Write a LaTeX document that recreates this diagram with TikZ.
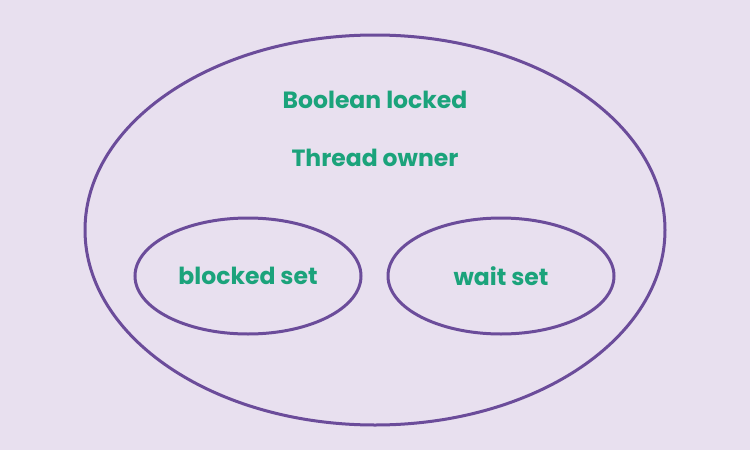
\documentclass[tikz,border=0pt]{standalone}
\usepackage{fontspec}
\setmainfont{Poppins}
\definecolor{bg}{HTML}{E8E0EF}
\definecolor{stroke}{HTML}{6B4C9A}
\definecolor{txt}{HTML}{1BA37B}
\tikzset{
  ring/.style={draw=stroke, line width=3pt, ellipse},
  lbl/.style={text=txt, font=\fontsize{23.5}{26}\selectfont\bfseries, inner sep=0pt},
}
\usetikzlibrary{shapes.geometric}
\begin{document}
\begin{tikzpicture}[x=1pt,y=-1pt]
\fill[bg] (0,0) rectangle (750,450);
\useasboundingbox (0,0) rectangle (750,450);
\draw[draw=stroke, line width=3pt] (375,230) ellipse [x radius=290, y radius=195];
\node[ring, minimum width=226pt, minimum height=116pt, inner sep=0pt] (blocked) at (248,276) {};
\node[ring, minimum width=226pt, minimum height=116pt, inner sep=0pt] (wait) at (501,276) {};
\node[lbl] (locked) at (375,100) {Boolean locked};
\node[lbl] (owner) at (375,158) {Thread owner};
\node[lbl] at (blocked.center) {blocked set};
\node[lbl] at (wait.center) {wait set};
\end{tikzpicture}
\end{document}
